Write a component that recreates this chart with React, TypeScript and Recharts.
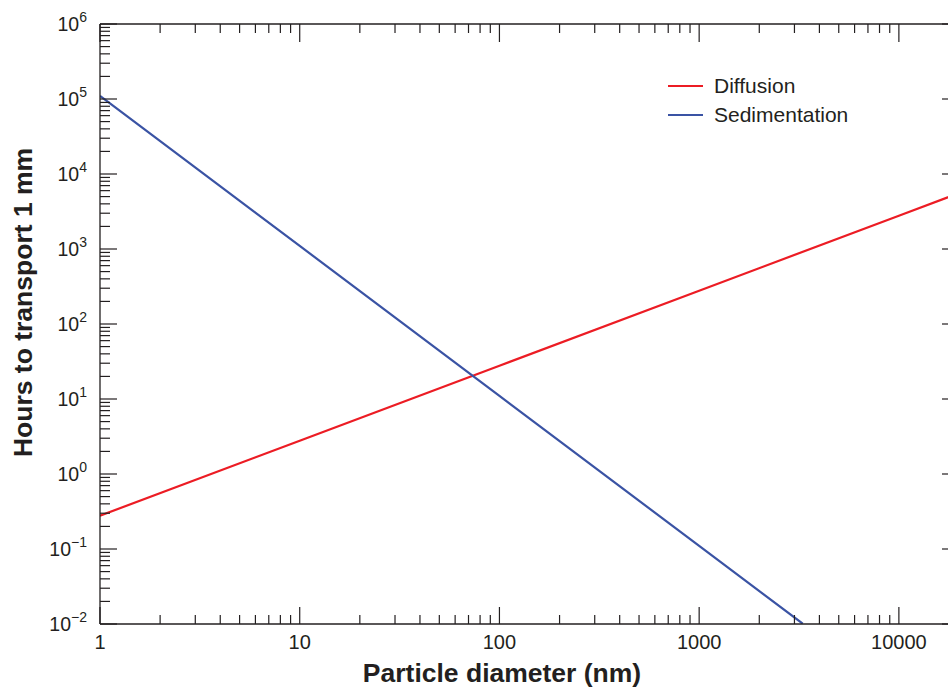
import { LineChart, Line, XAxis, YAxis, Legend } from 'recharts'

// particle diameter (nm) vs hours to move 1 mm
const diffusionD = [1, 10, 100, 1000, 10000, 20000]
const diffusionHours = [0.278, 2.78, 27.8, 278, 2780, 5560]
const sedimentD = [1, 10, 100, 1000, 3300]
const sedimentHours = [110000, 1100, 11, 0.11, 0.0101]

const xMajor = [1, 10, 100, 1000, 10000]
const xMinor = [1, 10, 100, 1000].flatMap((d) => [2, 3, 4, 5, 6, 7, 8, 9].map((m) => m * d))
const yExp = [-2, -1, 0, 1, 2, 3, 4, 5, 6]
const yMajor = yExp.map((e) => Math.pow(10, e))
const yMinor = yExp.slice(0, -1).flatMap((e) => [2, 3, 4, 5, 6, 7, 8, 9].map((m) => m * Math.pow(10, e)))

const RED = '#ec1c24'
const BLUE = '#3a53a4'
const INK = '#231f20'
const FONT = '"Liberation Sans", Arial, sans-serif'

const diffusion = diffusionD.map((d, i) => ({ d, h: diffusionHours[i] }))
const sediment = sedimentD.map((d, i) => ({ d, h: sedimentHours[i] }))

const series = [
  { name: 'Diffusion', color: RED },
  { name: 'Sedimentation', color: BLUE },
]

const isMajor = (v: number) => Math.abs(Math.log10(v) - Math.round(Math.log10(v))) < 1e-6

function BottomTick({ x, y, payload }: any) {
  const major = isMajor(payload.value)
  return (
    <g>
      <line x1={x} x2={x} y1={y} y2={y - (major ? 17 : 9)} stroke={INK} strokeWidth={1.2} />
      {major && (
        <text x={x} y={y + 25} textAnchor="middle" fontSize={20} fill={INK} fontFamily={FONT}>
          {payload.value}
        </text>
      )}
    </g>
  )
}

function TopTick({ x, y, payload }: any) {
  const major = isMajor(payload.value)
  return <line x1={x} x2={x} y1={y} y2={y + (major ? 18 : 9)} stroke={INK} strokeWidth={1.2} />
}

function LeftTick({ x, y, payload }: any) {
  const major = isMajor(payload.value)
  const e = Math.round(Math.log10(payload.value))
  return (
    <g>
      <line x1={x} x2={x + (major ? 17 : 10)} y1={y} y2={y} stroke={INK} strokeWidth={1.2} />
      {major && (
        <text x={x - 13} y={y + 7} textAnchor="end" fontSize={19.5} fill={INK} fontFamily={FONT}>
          <tspan>10</tspan>
          <tspan dy={-9} fontSize={14}>{e < 0 ? '\u2212' + Math.abs(e) : e}</tspan>
        </text>
      )}
    </g>
  )
}

function RightTick({ x, y, payload }: any) {
  const major = isMajor(payload.value)
  return <line x1={x} x2={x - (major ? 17 : 10)} y1={y} y2={y} stroke={INK} strokeWidth={1.2} />
}

function LegendBox() {
  return (
    <div style={{ fontFamily: FONT, fontSize: 21, color: INK }}>
      {series.map((s) => (
        <div key={s.name} style={{ display: 'flex', alignItems: 'center', height: 29 }}>
          <div style={{ width: 35, height: 2, background: s.color, marginRight: 11 }} />
          <span>{s.name}</span>
        </div>
      ))}
    </div>
  )
}

export default function App() {
  return (
    <div style={{ position: 'absolute', left: 0, top: 0, width: 948, height: 689, overflow: 'hidden', background: '#fff' }}>
      <LineChart width={960} height={689} margin={{ top: 23, right: 0, bottom: 0, left: 0 }}>
        <XAxis
          dataKey="d"
          type="number"
          scale="log"
          domain={[1, 20000]}
          allowDataOverflow
          ticks={[...xMajor, ...xMinor]}
          interval={0}
          tick={<BottomTick />}
          tickLine={false}
          tickSize={0}
          tickMargin={0}
          height={65}
          axisLine={{ stroke: INK, strokeWidth: 1.3 }}
          label={{
            content: () => (
              <text x={502} y={682} textAnchor="middle" fontSize={26.5} fontWeight="bold" fill={INK} fontFamily={FONT}>
                Particle diameter (nm)
              </text>
            ),
          }}
        />
        <XAxis
          xAxisId="top"
          orientation="top"
          dataKey="d"
          type="number"
          scale="log"
          domain={[1, 20000]}
          allowDataOverflow
          ticks={[...xMajor, ...xMinor]}
          interval={0}
          tick={<TopTick />}
          tickLine={false}
          tickSize={0}
          tickMargin={0}
          height={1}
          axisLine={{ stroke: INK, strokeWidth: 1.3 }}
        />
        <YAxis
          dataKey="h"
          type="number"
          scale="log"
          domain={[0.01, 1000000]}
          allowDataOverflow
          ticks={[...yMajor, ...yMinor]}
          interval={0}
          tick={<LeftTick />}
          tickLine={false}
          tickSize={0}
          tickMargin={0}
          width={100}
          axisLine={{ stroke: INK, strokeWidth: 1.3 }}
          label={{
            content: () => (
              <text
                x={32}
                y={302.5}
                transform="rotate(-90 32 302.5)"
                textAnchor="middle"
                fontSize={26.5}
                fontWeight="bold"
                fill={INK}
                fontFamily={FONT}
              >
                Hours to transport 1 mm
              </text>
            ),
          }}
        />
        <YAxis
          yAxisId="right"
          orientation="right"
          type="number"
          scale="log"
          domain={[0.01, 1000000]}
          allowDataOverflow
          ticks={[...yMajor, ...yMinor]}
          interval={0}
          tick={<RightTick />}
          tickLine={false}
          tickSize={0}
          tickMargin={0}
          width={1}
          axisLine={{ stroke: INK, strokeWidth: 1.3 }}
        />
        <Legend
          layout="vertical"
          align="center"
          verticalAlign="middle"
          wrapperStyle={{ left: 668, top: 71, width: 240 }}
          content={<LegendBox />}
        />
        <Line
          data={diffusion}
          dataKey="h"
          name="Diffusion"
          stroke={RED}
          strokeWidth={2.2}
          dot={false}
          isAnimationActive={false}
        />
        <Line
          data={sediment}
          dataKey="h"
          name="Sedimentation"
          stroke={BLUE}
          strokeWidth={2.2}
          dot={false}
          isAnimationActive={false}
        />
      </LineChart>
    </div>
  )
}
